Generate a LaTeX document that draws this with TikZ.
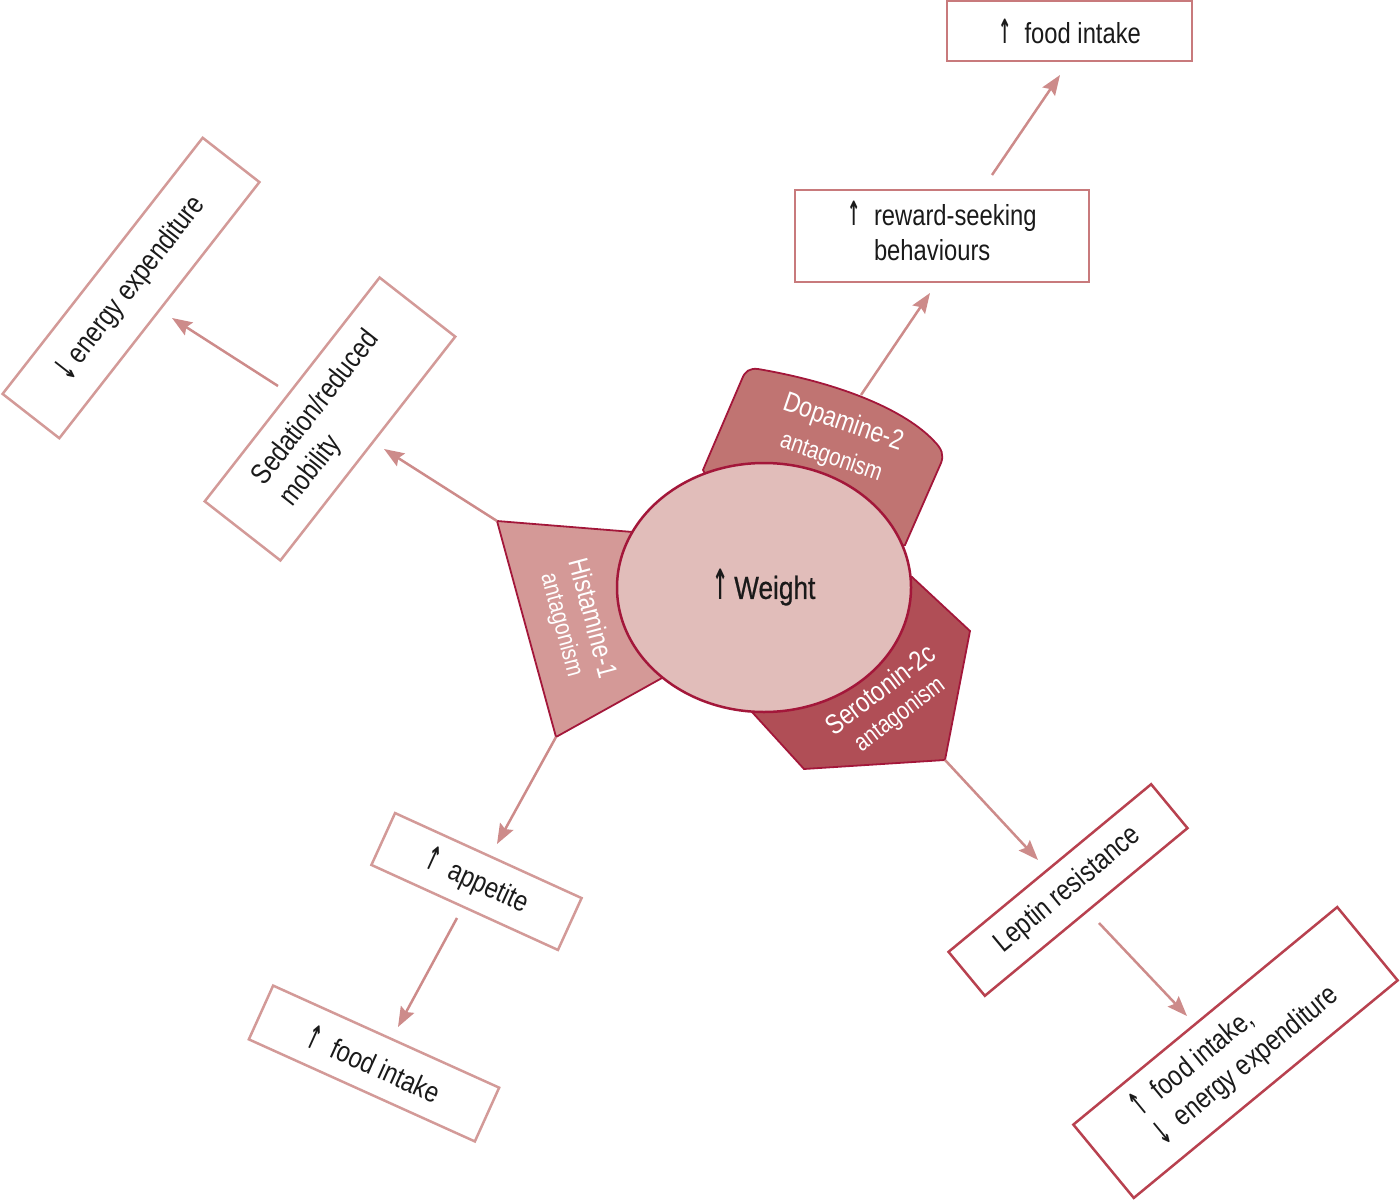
\documentclass[tikz,border=0pt]{standalone}
\usepackage{fontspec}
\usepackage{graphicx}
\setmainfont[FakeStretch=0.82]{Liberation Sans}
\newfontfamily\arrfont[FakeStretch=0.55]{DejaVu Sans}
\usetikzlibrary{arrows.meta,shapes.geometric}
\definecolor{histfill}{HTML}{D49997}
\definecolor{dopfill}{HTML}{C07472}
\definecolor{serfill}{HTML}{B04E56}
\definecolor{ellfill}{HTML}{E1BDBA}
\definecolor{darkred}{HTML}{A3173A}
\definecolor{boxlight}{HTML}{D39A98}
\definecolor{boxmid}{HTML}{C87A7C}
\definecolor{boxdark}{HTML}{B8414F}
\definecolor{arrowc}{HTML}{CD8B8A}
\definecolor{txt}{HTML}{1A1A1A}
\newcommand{\myup}{\raisebox{0pt}{\scalebox{1}[1.15]{\arrfont\bfseries ↑}}}
\newcommand{\mydown}{\raisebox{-3pt}{\scalebox{1}[1.15]{\arrfont\bfseries ↓}}}
\begin{document}
\begin{tikzpicture}[x=1pt,y=-1pt,
  box/.style={draw, fill=white, line width=2.5pt, rectangle, inner sep=0pt,
    font=\fontsize{29}{35}\selectfont, text=txt, align=left},
  conn/.style={draw=arrowc, line width=2.5pt, -{Stealth[length=20pt,width=15pt,inset=3pt]}},
  lblbig/.style={text=white, inner sep=0pt, font=\fontsize{28}{30}\selectfont},
  lblsmall/.style={text=white, inner sep=0pt, font=\fontsize{25}{27}\selectfont},
  shp/.style={draw=darkred, line width=1.8pt}]
\useasboundingbox (0,0) rectangle (1400,1201);

% named corner coordinates of the receptor shapes
\coordinate (hTop) at (497,521);
\coordinate (hTip) at (556,737);
\coordinate (sCorner) at (945,760);

% Histamine-1 shape
\path[shp, fill=histfill] (hTop) -- (633,532) -- (662,678) -- (hTip) -- cycle;
% Serotonin-2c shape
\path[shp, fill=serfill] (912,577) -- (970,631) -- (sCorner) -- (804,769) -- (752,712) -- (764,600) -- cycle;
% Dopamine-2 shape
\path[shp, fill=dopfill] (703,470) -- (742,379) .. controls (745,371) and (750,368) .. (758,369)
  .. controls (840,383) and (905,410) .. (934,441) .. controls (942,449) and (944,455) .. (941,463)
  -- (905,545) -- (764,587) -- cycle;

% labels in the shapes
\node[lblbig, rotate=-19] (dopA) at (843,423) {Dopamine-2};
\node[lblsmall, rotate=-19] (dopB) at (831,458) {antagonism};
\node[lblbig, rotate=-75] (hisA) at (594,618) {Histamine-1};
\node[lblsmall, rotate=-75] (hisB) at (561,625) {antagonism};
\node[lblbig, rotate=37] (serA) at (880,689) {Serotonin-2c};
\node[lblsmall, rotate=37] (serB) at (900,715) {antagonism};

% central ellipse
\node[ellipse, draw=darkred, fill=ellfill, line width=2.5pt, minimum width=294pt, minimum height=249pt,
  inner sep=0pt, text=txt, font=\fontsize{32}{34}\selectfont] (weight) at (764,587.5)
  {\raisebox{-1pt}{\scalebox{1.1}[1.3]{\arrfont\bfseries ↑}}\,{\addfontfeature{FakeBold=0.6}Weight}};

% boxes
\node[box, draw=boxmid, minimum width=245pt, minimum height=60pt] (food1) at (1069.5,31) {\myup\ \ food intake};
\node[box, draw=boxmid, minimum width=294pt, minimum height=92pt] (reward) at (942,236)
  {\begin{tabular}{@{}l@{\ \ }l@{}}\myup & reward-seeking\\ & behaviours\end{tabular}};
\node[box, draw=boxlight, rotate=52, minimum width=325pt, minimum height=72pt] (energy) at (131,288) {\mydown\ energy expenditure};
\node[box, draw=boxlight, rotate=52, minimum width=284pt, minimum height=96pt] (sedation) at (330,419) {Sedation/reduced\\mobility};
\node[box, draw=boxlight, rotate=-24.5, minimum width=205pt, minimum height=57pt] (appetite) at (476.5,881.5) {\myup\ \ appetite};
\node[box, draw=boxlight, rotate=-24.3, minimum width=248pt, minimum height=59pt] (food2) at (374,1063.5) {\myup\ \ food intake};
\node[box, draw=boxdark, rotate=39.6, minimum width=263pt, minimum height=57pt] (leptin) at (1068,890) {Leptin resistance};
\node[box, draw=boxdark, rotate=39.5, minimum width=342pt, minimum height=95pt] (food3) at (1235.5,1052.5)
  {\begin{tabular}{@{}l@{\ \ }l@{}}\myup & food intake,\\ \mydown & energy expenditure\end{tabular}};

% connector end points (free ends)
\coordinate (c1s) at (861,395);  \coordinate (c1e) at (930,293);
\coordinate (c2s) at (992,175);  \coordinate (c2e) at (1060,75);
\coordinate (c3e) at (384,449);
\coordinate (c4s) at (278,386);  \coordinate (c4e) at (172,318);
\coordinate (c5e) at (497,844);
\coordinate (c6s) at (457,918);  \coordinate (c6e) at (398,1027);
\coordinate (c7e) at (1038,860);
\coordinate (c8s) at (1099,923); \coordinate (c8e) at (1187,1016);

\draw[conn] (c1s) -- (c1e);
\draw[conn] (c2s) -- (c2e);
\draw[conn] (hTop) -- (c3e);
\draw[conn] (c4s) -- (c4e);
\draw[conn] (hTip) -- (c5e);
\draw[conn] (c6s) -- (c6e);
\draw[conn] (sCorner) -- (c7e);
\draw[conn] (c8s) -- (c8e);
\end{tikzpicture}
\end{document}
